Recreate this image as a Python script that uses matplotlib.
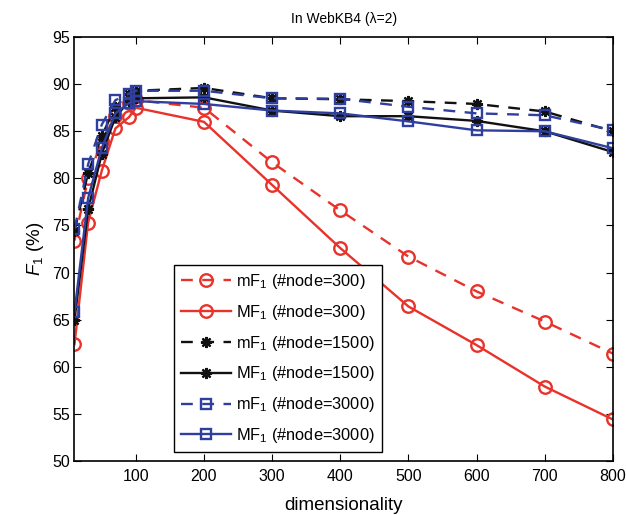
import matplotlib
matplotlib.use("Agg")
import matplotlib.pyplot as plt

plt.rcParams['font.family'] = ['Liberation Sans', 'DejaVu Sans']
plt.rcParams['mathtext.fontset'] = 'custom'
plt.rcParams['mathtext.rm'] = 'Liberation Sans'
plt.rcParams['mathtext.it'] = 'Liberation Sans:italic'

dims = [10, 30, 50, 70, 90, 100, 200, 300, 400, 500, 600, 700, 800]

mF1_300 = [73.4, 80.0, 84.0, 86.6, 88.0, 88.3, 87.5, 81.7, 76.6, 71.7, 68.0, 64.8, 61.4]
MF1_300 = [62.4, 75.3, 80.8, 85.3, 86.5, 87.5, 86.0, 79.3, 72.6, 66.4, 62.3, 57.9, 54.4]
mF1_1500 = [74.4, 80.6, 84.5, 87.6, 89.0, 89.3, 89.6, 88.5, 88.4, 88.2, 87.9, 87.1, 85.0]
MF1_1500 = [65.0, 76.7, 82.6, 86.5, 88.2, 88.5, 88.6, 87.2, 86.6, 86.6, 86.1, 85.0, 82.8]
mF1_3000 = [74.6, 81.5, 85.7, 88.3, 89.0, 89.3, 89.3, 88.5, 88.45, 87.6, 86.9, 86.7, 85.1]
MF1_3000 = [65.8, 77.9, 83.2, 86.9, 88.0, 88.2, 87.9, 87.2, 86.9, 86.05, 85.1, 85.0, 83.2]

labels = [r'mF$_1$ (#node=300)', r'MF$_1$ (#node=300)',
          r'mF$_1$ (#node=1500)', r'MF$_1$ (#node=1500)',
          r'mF$_1$ (#node=3000)', r'MF$_1$ (#node=3000)']

xticks = [100, 200, 300, 400, 500, 600, 700, 800]
yticks = [50, 55, 60, 65, 70, 75, 80, 85, 90, 95]

red = '#e8322a'
blue = '#2f3f9f'
black = '#111111'
ast = (8, 2, 0)

fig = plt.figure(figsize=(6.26, 5.15), dpi=100)
ax = fig.add_axes([0.119, 0.105, 0.860, 0.823])

ax.plot(dims, mF1_300, '--', color=red, lw=1.7, marker='o', ms=9, mfc='none', mew=1.7, dashes=(5, 4), label=labels[0])
ax.plot(dims, MF1_300, '-', color=red, lw=1.7, marker='o', ms=9, mfc='none', mew=1.7, label=labels[1])
ax.plot(dims, mF1_1500, '--', color=black, lw=1.7, marker=ast, ms=8, mew=1.6, dashes=(5, 4), label=labels[2])
ax.plot(dims, MF1_1500, '-', color=black, lw=1.7, marker=ast, ms=8, mew=1.6, label=labels[3])
ax.plot(dims, mF1_3000, '--', color=blue, lw=1.7, marker='s', ms=7, mfc='none', mew=1.7, dashes=(5, 4), label=labels[4])
ax.plot(dims, MF1_3000, '-', color=blue, lw=1.7, marker='s', ms=7, mfc='none', mew=1.7, label=labels[5])

ax.set_xlim(10, 800)
ax.set_ylim(50, 95)
ax.set_xticks(xticks)
ax.set_yticks(yticks)
ax.tick_params(direction='in', top=True, right=True, labelsize=11.5, length=5, width=0.8)
ax.tick_params(axis='x', pad=6)
for s in ax.spines.values():
    s.set_linewidth(1.2)

ax.set_title('In WebKB4 (λ=2)', fontsize=10, pad=10)
ax.set_xlabel('dimensionality', fontsize=13.5, labelpad=9)
ax.set_ylabel(r'$\mathit{F}_{1}$ (%)', fontsize=13.5)

leg = ax.legend(loc='lower left', bbox_to_anchor=(0.185, 0.02), borderaxespad=0,
                fontsize=11.8, frameon=True, fancybox=False, edgecolor='black',
                framealpha=1, handlelength=3.0, borderpad=0.45, labelspacing=0.72,
                handletextpad=0.35)
leg.get_frame().set_linewidth(1.0)

fig.savefig('out.png', dpi=100)
